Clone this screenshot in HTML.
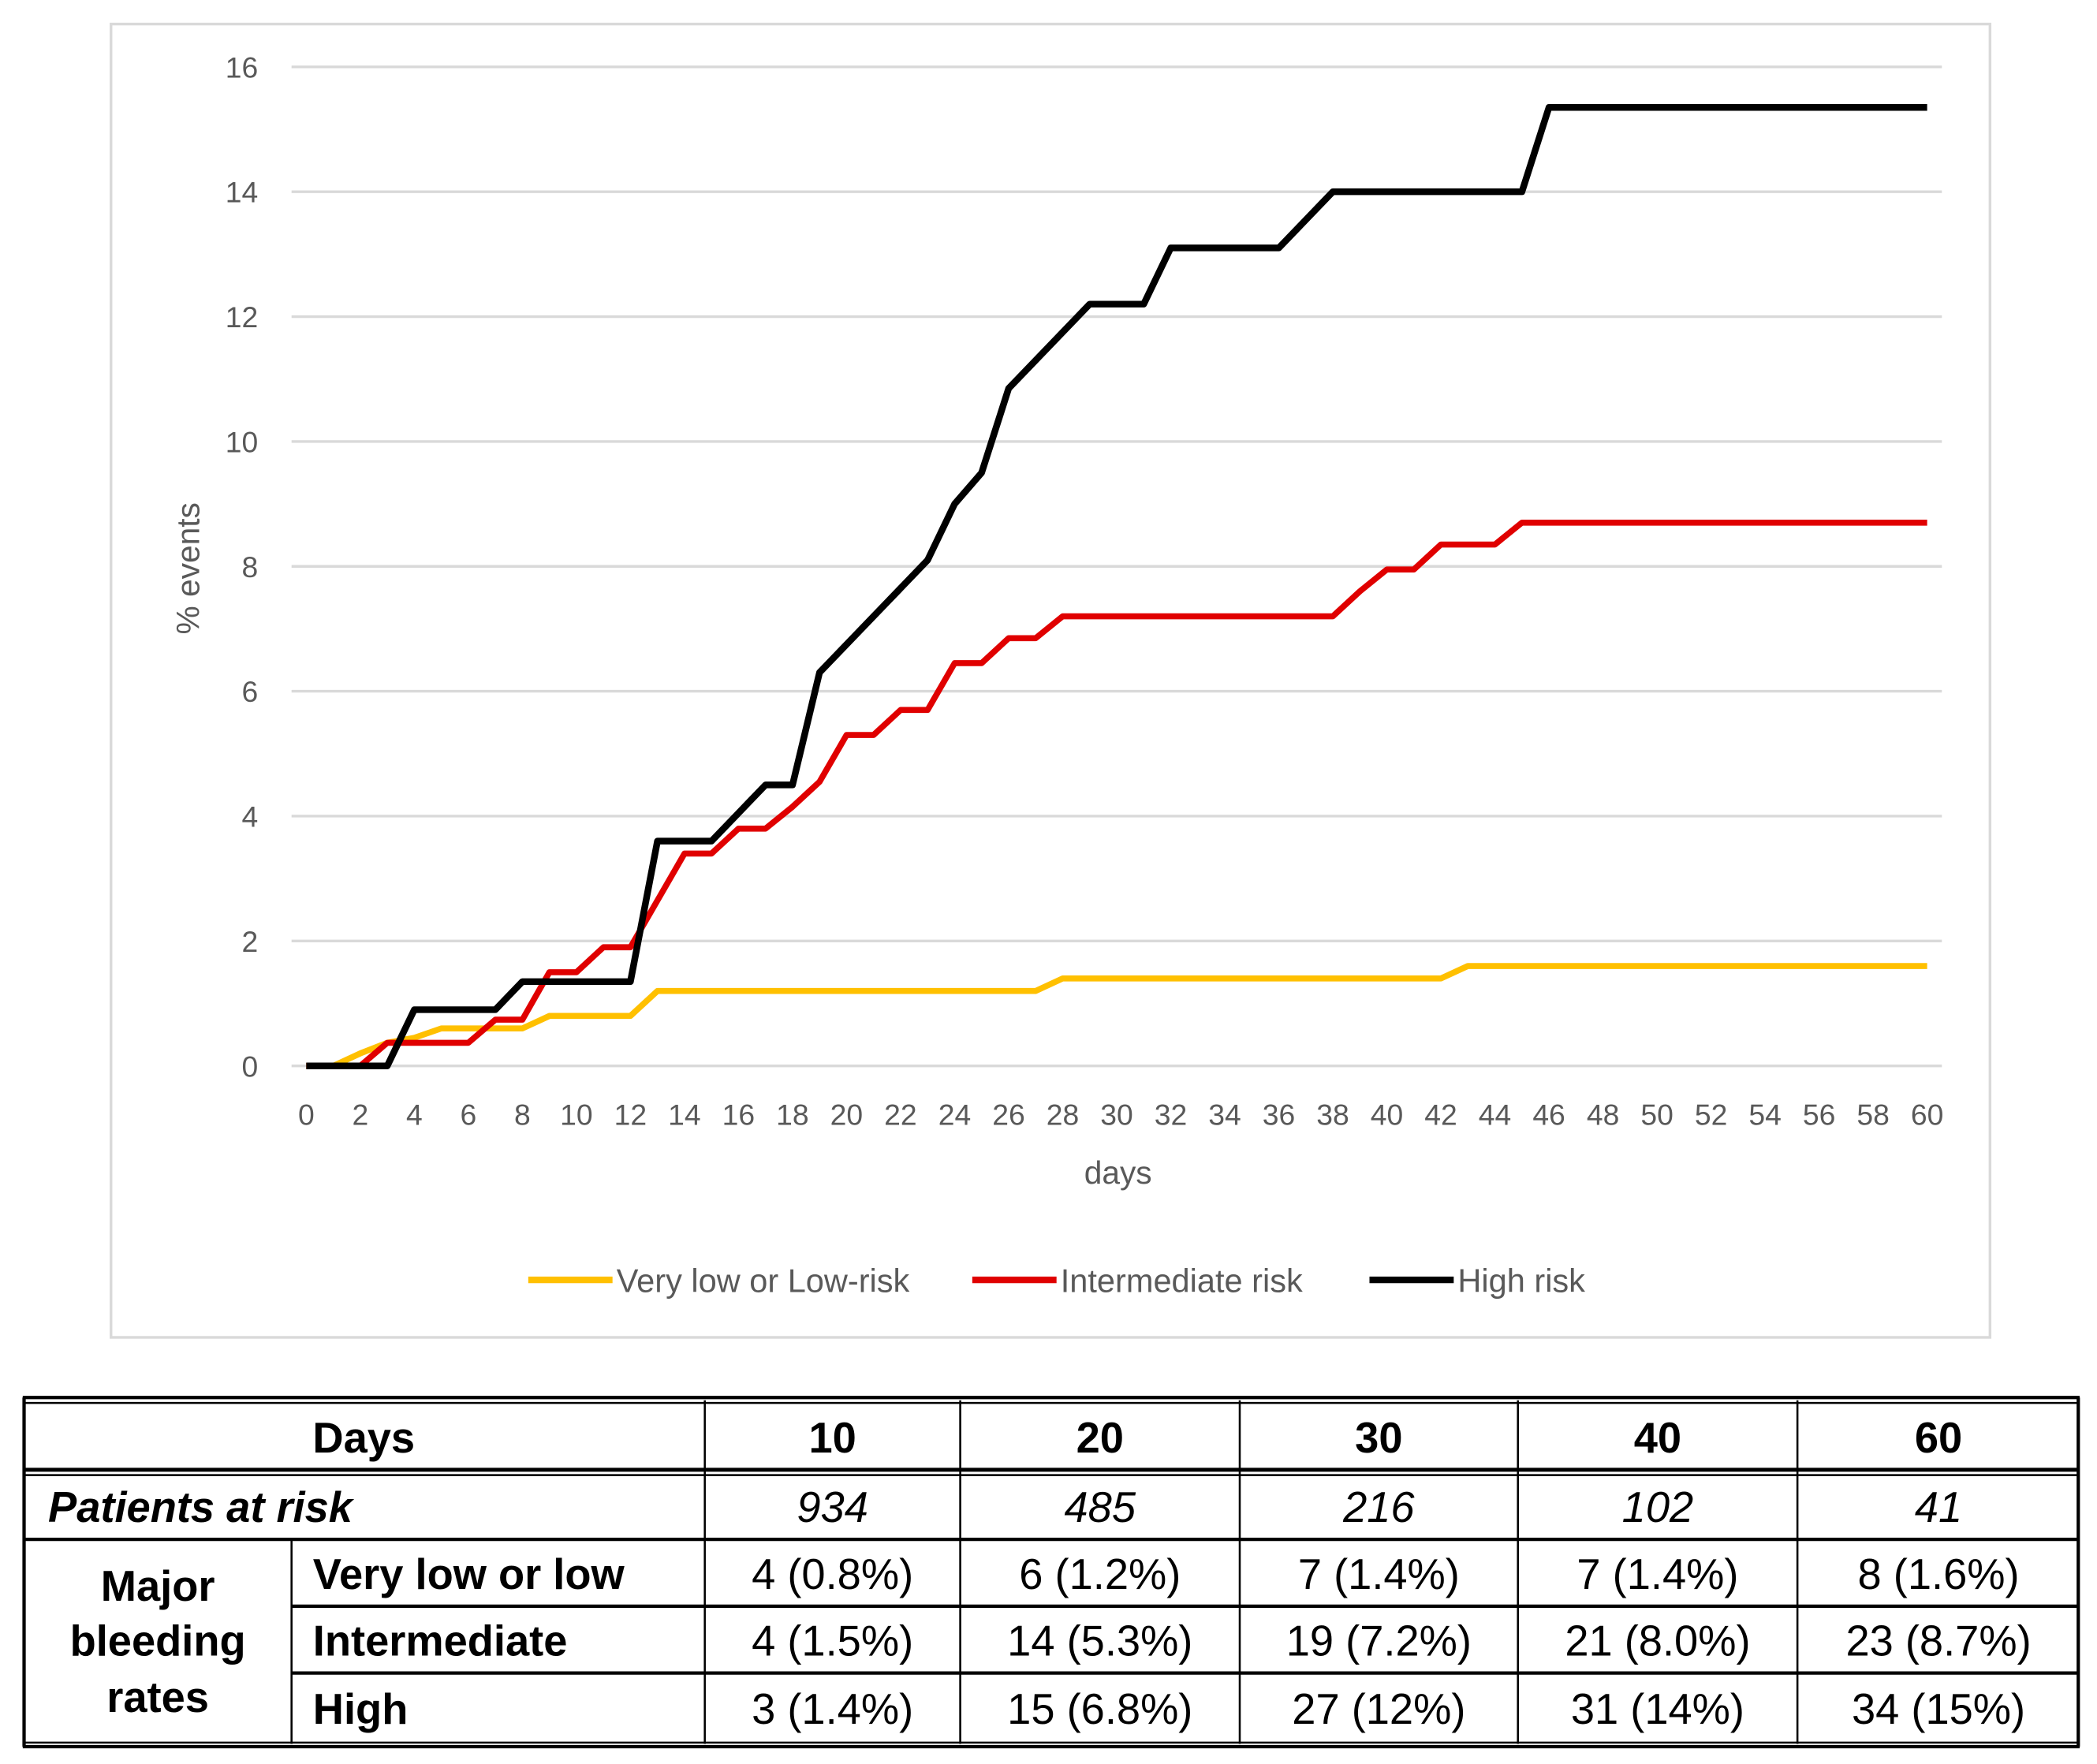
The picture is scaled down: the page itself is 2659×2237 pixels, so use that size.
<!DOCTYPE html>
<html><head><meta charset="utf-8">
<style>
html,body{margin:0;padding:0;background:#fff;}
svg{display:block;}
text{font-family:"Liberation Sans",sans-serif;}
</style></head>
<body>
<svg id="root" width="2659" height="2237" viewBox="0 0 1568 1319" preserveAspectRatio="none" xmlns="http://www.w3.org/2000/svg">
<rect x="83" y="18" width="1405" height="982" fill="#fff" stroke="#d9d9d9" stroke-width="2"/>
<g id="grid"></g>
<g id="yticks"></g>
<g id="xticks"></g>
<text x="836" y="885" font-size="24" fill="#595959" text-anchor="middle">days</text>
<text transform="translate(149,425) rotate(-90)" font-size="24" fill="#595959" text-anchor="middle">% events</text>
<g id="series"></g>
<g>
<g><line x1="395" y1="957" x2="458" y2="957" stroke="#ffc000" stroke-width="5"/><text x="461" y="966" font-size="24.5" fill="#595959">Very low or Low-risk</text></g>
<g><line x1="727" y1="957" x2="790" y2="957" stroke="#e00000" stroke-width="5"/><text x="793" y="966" font-size="24.5" fill="#595959">Intermediate risk</text></g>
<g><line x1="1024" y1="957" x2="1087" y2="957" stroke="#000" stroke-width="5"/><text x="1090" y="966" font-size="24.5" fill="#595959">High risk</text></g>
</g>
<g id="table"></g>
</svg>
<script>
const yTicks=[0,2,4,6,8,10,12,14,16];
const xTicks=[0,2,4,6,8,10,12,14,16,18,20,22,24,26,28,30,32,34,36,38,40,42,44,46,48,50,52,54,56,58,60];
const days=[0,1,2,3,4,5,6,7,8,9,10,11,12,13,14,15,16,17,18,19,20,21,22,23,24,25,26,27,28,29,30,31,32,33,34,35,36,37,38,39,40,41,42,43,44,45,46,47,48,49,50,51,52,53,54,55,56,57,58,59,60];
const lowRisk=[0,0,0.2,0.37,0.45,0.6,0.6,0.6,0.6,0.8,0.8,0.8,0.8,1.2,1.2,1.2,1.2,1.2,1.2,1.2,1.2,1.2,1.2,1.2,1.2,1.2,1.2,1.2,1.4,1.4,1.4,1.4,1.4,1.4,1.4,1.4,1.4,1.4,1.4,1.4,1.4,1.4,1.4,1.6,1.6,1.6,1.6,1.6,1.6,1.6,1.6,1.6,1.6,1.6,1.6,1.6,1.6,1.6,1.6,1.6,1.6];
const intermediateRisk=[0,0,0,0.37,0.37,0.37,0.37,0.74,0.74,1.5,1.5,1.9,1.9,2.65,3.4,3.4,3.8,3.8,4.15,4.55,5.3,5.3,5.7,5.7,6.45,6.45,6.85,6.85,7.2,7.2,7.2,7.2,7.2,7.2,7.2,7.2,7.2,7.2,7.2,7.6,7.95,7.95,8.35,8.35,8.35,8.7,8.7,8.7,8.7,8.7,8.7,8.7,8.7,8.7,8.7,8.7,8.7,8.7,8.7,8.7,8.7];
const highRisk=[0,0,0,0,0.9,0.9,0.9,0.9,1.35,1.35,1.35,1.35,1.35,3.6,3.6,3.6,4.05,4.5,4.5,6.3,6.75,7.2,7.65,8.1,9.0,9.5,10.85,11.3,11.75,12.2,12.2,12.2,13.1,13.1,13.1,13.1,13.1,13.55,14.0,14.0,14.0,14.0,14.0,14.0,14.0,14.0,15.35,15.35,15.35,15.35,15.35,15.35,15.35,15.35,15.35,15.35,15.35,15.35,15.35,15.35,15.35];
const tableCols=["10","20","30","40","60"];
const atRisk=["934","485","216","102","41"];
const rowLow=["4 (0.8%)","6 (1.2%)","7 (1.4%)","7 (1.4%)","8 (1.6%)"];
const rowInt=["4 (1.5%)","14 (5.3%)","19 (7.2%)","21 (8.0%)","23 (8.7%)"];
const rowHigh=["3 (1.4%)","15 (6.8%)","27 (12%)","31 (14%)","34 (15%)"];

const NS="http://www.w3.org/2000/svg";
const X=d=>229+d*(1441-229)/60;
const Y=v=>797-v*(797-50)/16;
function mk(tag,attrs,parent){const e=document.createElementNS(NS,tag);for(const k in attrs)e.setAttribute(k,attrs[k]);parent.appendChild(e);return e;}
const grid=document.getElementById('grid'),yt=document.getElementById('yticks'),xt=document.getElementById('xticks');
yTicks.forEach(v=>{
 const l=mk('line',{x1:218,x2:1452,y1:Y(v),y2:Y(v),stroke:'#d9d9d9','stroke-width':2},grid);
 
 
 const t=mk('text',{x:193,y:Y(v)+8,'font-size':22,fill:'#595959','text-anchor':'end'},yt);
 t.textContent=v;
 
 
});
xTicks.forEach(d=>{
 const t=mk('text',{x:X(d),y:841,'font-size':22,fill:'#595959','text-anchor':'middle'},xt);
 t.textContent=d;
 
 
});
const ser=document.getElementById('series');
[[lowRisk,'#ffc000',4.5,'line-low-risk'],[intermediateRisk,'#e00000',4.5,'line-intermediate-risk'],[highRisk,'#000',5,'line-high-risk']].forEach(([vals,c,w,n])=>{
 const p=mk('polyline',{points:vals.map((v,i)=>X(days[i])+','+Y(v)).join(' '),fill:'none',stroke:c,'stroke-width':w,'stroke-linejoin':'round'},ser);
 
 
});
const tb=document.getElementById('table');
const colX=[527,718,927,1135,1344,1555];
function ln(x1,y1,x2,y2,w){mk('line',{x1,y1,x2,y2,stroke:'#000','stroke-width':w},tb);}
function txt(s,x,y,o){const t=mk('text',Object.assign({x,y,'font-size':32,fill:'#000','text-anchor':'middle'},o||{}),tb);t.textContent=s;}
ln(17,1045,1555,1045,2.5);ln(17,1049,1555,1049,1.5);
ln(17,1303,1555,1303,1.5);ln(17,1306,1555,1306,2.5);
ln(18,1045,18,1306,2.5);ln(1554,1045,1554,1306,2.5);
ln(17,1099,1555,1099,3);ln(17,1103,1555,1103,1.5);
ln(17,1151,1555,1151,2.5);
ln(218,1201,1555,1201,2.5);ln(218,1251,1555,1251,2.5);
colX.slice(0,5).forEach(x=>ln(x,1047,x,1304,1.5));
ln(218,1151,218,1304,1.5);
txt('Days',272,1086,{'font-weight':'bold'});
tableCols.forEach((s,i)=>txt(s,(colX[i]+colX[i+1])/2,1086,{'font-weight':'bold'}));
txt('Patients at risk',36,1138,{'font-weight':'bold','font-style':'italic','text-anchor':'start'});
atRisk.forEach((s,i)=>txt(s,(colX[i]+colX[i+1])/2,1138,{'font-style':'italic'}));
txt('Major',118,1197,{'font-weight':'bold'});
txt('bleeding',118,1238,{'font-weight':'bold'});
txt('rates',118,1280,{'font-weight':'bold'});
[['Very low or low',rowLow,1188],['Intermediate',rowInt,1238],['High',rowHigh,1289]].forEach(([lab,arr,y])=>{
 txt(lab,234,y,{'font-weight':'bold','text-anchor':'start'});
 arr.forEach((s,i)=>txt(s,(colX[i]+colX[i+1])/2,y));
});
</script>
</body></html>
